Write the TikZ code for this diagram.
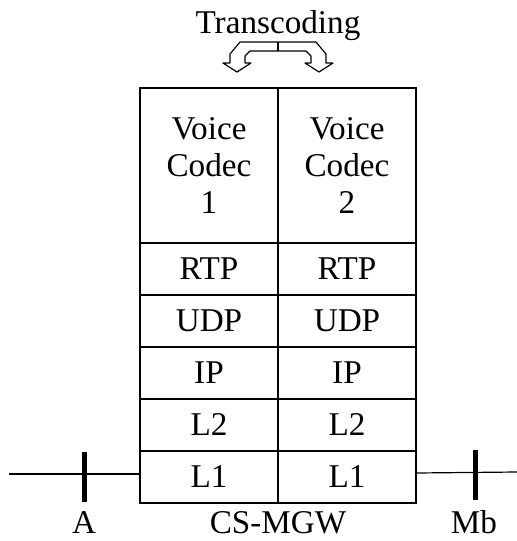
\documentclass[tikz,border=0pt]{standalone}
\usepackage{fontspec}
\setmainfont{Liberation Serif}
\usetikzlibrary{positioning}
\tikzset{
  cell/.style={draw, line width=1pt, outer sep=0pt, inner sep=0pt,
    minimum width=69pt, minimum height=26pt, align=center,
    font=\fontsize{16.6}{18.5}\selectfont},
  codec/.style={cell, minimum height=77.5pt},
  wire/.style={draw, line width=0.6pt},
  tick/.style={draw, line width=2.5pt},
  bigarrow/.style={draw, line width=0.6pt, line join=round},
  lab/.style={anchor=base, inner sep=0pt, font=\fontsize{16.6}{18.5}\selectfont},
}

\begin{document}
\begin{tikzpicture}[x=0.5pt,y=-0.5pt]
  \useasboundingbox (0,0) rectangle (517,541);

  % protocol stacks
  \node[codec] (vc1) at (209,165.5) {Voice\\Codec\\1};
  \node[codec] (vc2) at (347,165.5) {Voice\\Codec\\2};
  \node[cell,below=0pt of vc1] (rtp1) {RTP};
  \node[cell,below=0pt of vc2] (rtp2) {RTP};
  \node[cell,below=0pt of rtp1] (udp1) {UDP};
  \node[cell,below=0pt of rtp2] (udp2) {UDP};
  \node[cell,below=0pt of udp1] (ip1) {IP};
  \node[cell,below=0pt of udp2] (ip2) {IP};
  \node[cell,below=0pt of ip1] (ltwo1) {L2};
  \node[cell,below=0pt of ip2] (ltwo2) {L2};
  \node[cell,below=0pt of ltwo1] (lone1) {L1};
  \node[cell,below=0pt of ltwo2] (lone2) {L1};

  % transcoding arrow
  \node[lab] (trans) at (278,33) {Transcoding};
  \draw[bigarrow] (278,42) -- (240,42) -- (230,54) -- (230,63) -- (223,63)
    -- (237,72) -- (251,63) -- (245,63) -- (245,56) -- (250,51)
    -- (306,51) -- (311,56) -- (311,63) -- (305,63) -- (319,72)
    -- (333,63) -- (326,63) -- (326,54) -- (316,42) -- cycle;
  \draw[bigarrow] (278,42) -- (278,51);

  % interfaces
  \coordinate (Aend) at (9,474);
  \coordinate (Mbend) at (517,472);
  \draw[wire] (Aend) -- ([yshift=1.5pt]lone1.west);
  \draw[wire] ([yshift=2pt]lone2.east) -- (Mbend);
  \draw[tick] (84,452) -- (84,502);
  \draw[tick] (475,450) -- (475,500);

  \node[lab] (labA) at (84,533) {A};
  \node[lab] (labgw) at (278,533) {CS-MGW};
  \node[lab] (labMb) at (474,533) {Mb};
\end{tikzpicture}
\end{document}
